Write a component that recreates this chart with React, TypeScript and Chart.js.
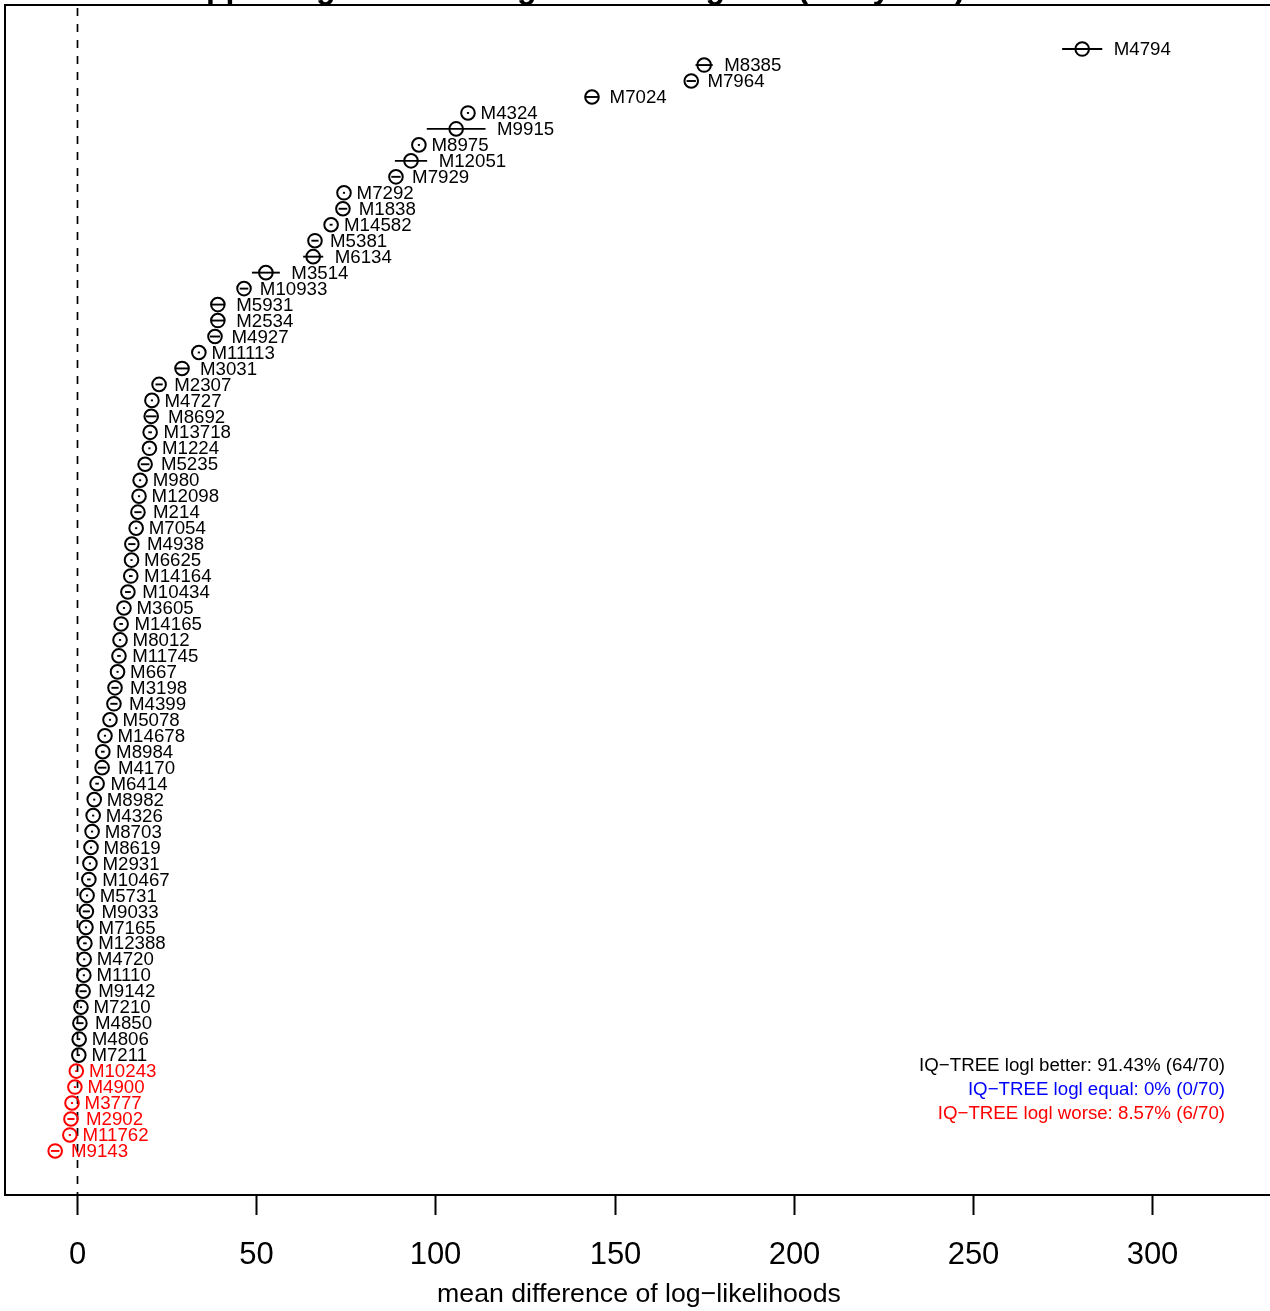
import React, { useEffect, useRef } from "react";
import { Chart, registerables } from "chart.js";

Chart.register(...registerables);

const modelLabels: string[] = [
  "M4794", "M8385", "M7964", "M7024", "M4324", "M9915", "M8975", "M12051", "M7929", "M7292",
  "M1838", "M14582", "M5381", "M6134", "M3514", "M10933", "M5931", "M2534", "M4927", "M11113",
  "M3031", "M2307", "M4727", "M8692", "M13718", "M1224", "M5235", "M980", "M12098", "M214",
  "M7054", "M4938", "M6625", "M14164", "M10434", "M3605", "M14165", "M8012", "M11745", "M667",
  "M3198", "M4399", "M5078", "M14678", "M8984", "M4170", "M6414", "M8982", "M4326", "M8703",
  "M8619", "M2931", "M10467", "M5731", "M9033", "M7165", "M12388", "M4720", "M1110", "M9142",
  "M7210", "M4850", "M4806", "M7211", "M10243", "M4900", "M3777", "M2902", "M11762", "M9143",
];

const meanDiff: number[] = [
  280.5, 175.0, 171.4, 143.7, 109.1, 105.8, 95.4, 93.2, 89.0, 74.5,
  74.2, 70.9, 66.4, 65.9, 52.7, 46.6, 39.3, 39.3, 38.5, 34.0,
  29.3, 22.9, 20.9, 20.7, 20.4, 20.2, 19.0, 17.6, 17.3, 17.0,
  16.5, 15.3, 15.2, 15.0, 14.2, 13.1, 12.3, 12.0, 11.7, 11.3,
  10.6, 10.3, 9.2, 7.8, 7.2, 7.0, 5.6, 4.8, 4.5, 4.2,
  3.9, 3.6, 3.3, 2.8, 2.6, 2.5, 2.2, 2.0, 1.9, 1.7,
  1.1, 0.8, 0.6, 0.5, -0.2, -0.6, -1.4, -1.7, -2.0, -6.1,
];

const errHalf: number[] = [
  5.6, 2.4, 1.3, 1.7, 0.3, 8.2, 0.3, 4.5, 1.3, 0.3,
  1.2, 0.4, 1.0, 2.8, 3.9, 1.2, 1.9, 1.9, 1.4, 0.3,
  1.8, 1.0, 0.3, 1.5, 0.5, 0.3, 1.2, 0.3, 0.3, 1.0,
  0.3, 1.0, 0.3, 0.5, 0.8, 0.3, 0.5, 0.3, 0.5, 0.3,
  1.0, 1.0, 0.3, 0.3, 0.5, 1.2, 0.5, 0.3, 0.3, 0.3,
  0.3, 0.3, 0.5, 0.3, 1.0, 0.3, 0.5, 0.3, 0.3, 1.0,
  0.3, 1.0, 0.3, 0.3, 0.3, 0.3, 0.3, 1.0, 0.3, 1.2,
];

const xTicks: number[] = [0, 50, 100, 150, 200, 250, 300];

const titleText = "Supporting site-wise log-likelihood gains (all by site)";
const xAxisTitle = "mean difference of log\u2212likelihoods";
const summaryLines: string[] = [
  "IQ\u2212TREE logl better: 91.43% (64/70)",
  "IQ\u2212TREE logl equal: 0% (0/70)",
  "IQ\u2212TREE logl worse: 8.57% (6/70)",
];
const summaryColors: string[] = ["#000000", "#0000FF", "#FF0000"];

const FONT = "'Liberation Sans', Arial, Helvetica, sans-serif";
const OFF = 40; // canvas shifted up by this many px

function colorOf(v: number): string {
  return v > 0 ? "#000000" : v < 0 ? "#FF0000" : "#0000FF";
}

const n = modelLabels.length;

const overlayPlugin = {
  id: "overlay",
  beforeDatasetsDraw(chart: any) {
    const ctx = chart.ctx;
    const xs = chart.scales.x;
    const ys = chart.scales.y;
    const area = chart.chartArea;
    ctx.save();
    // dashed zero line
    ctx.strokeStyle = "#000";
    ctx.lineWidth = 1.7;
    ctx.setLineDash([8, 8]);
    ctx.lineDashOffset = -3;
    const x0 = Math.round(xs.getPixelForValue(0)) + 0.5;
    ctx.beginPath();
    ctx.moveTo(x0, area.top);
    ctx.lineTo(x0, area.bottom);
    ctx.stroke();
    ctx.setLineDash([]);
    // error bars
    ctx.lineWidth = 1.9;
    for (let i = 0; i < n; i++) {
      const yy = ys.getPixelForValue(n - i);
      ctx.strokeStyle = colorOf(meanDiff[i]);
      ctx.beginPath();
      ctx.moveTo(xs.getPixelForValue(meanDiff[i] - errHalf[i]), yy);
      ctx.lineTo(xs.getPixelForValue(meanDiff[i] + errHalf[i]), yy);
      ctx.stroke();
    }
    ctx.restore();
  },
  afterDatasetsDraw(chart: any) {
    const ctx = chart.ctx;
    const xs = chart.scales.x;
    const ys = chart.scales.y;
    const area = chart.chartArea;
    ctx.save();
    // point labels
    ctx.font = `18.7px ${FONT}`;
    ctx.textAlign = "left";
    ctx.textBaseline = "middle";
    for (let i = 0; i < n; i++) {
      const yy = ys.getPixelForValue(n - i);
      const xr = xs.getPixelForValue(meanDiff[i] + errHalf[i]);
      ctx.fillStyle = colorOf(meanDiff[i]);
      ctx.fillText(modelLabels[i], xr + 11.5, yy + 1);
    }
    // box
    ctx.strokeStyle = "#000";
    ctx.lineWidth = 2;
    ctx.beginPath();
    ctx.rect(area.left, area.top, area.right - area.left, area.bottom - area.top);
    ctx.stroke();
    // ticks
    ctx.lineWidth = 2;
    ctx.font = `31px ${FONT}`;
    ctx.textAlign = "center";
    ctx.textBaseline = "middle";
    ctx.fillStyle = "#000";
    for (const t of xTicks) {
      const px = Math.round(xs.getPixelForValue(t)) + 0.5;
      ctx.beginPath();
      ctx.moveTo(px, area.bottom);
      ctx.lineTo(px, area.bottom + 20);
      ctx.stroke();
      ctx.fillText(String(t), px, area.bottom + 60);
    }
    // axis title
    ctx.font = `26.7px ${FONT}`;
    ctx.fillText(xAxisTitle, 639, area.bottom + 100);
    // summary legend
    ctx.font = `18.7px ${FONT}`;
    ctx.textAlign = "right";
    for (let k = 0; k < summaryLines.length; k++) {
      ctx.fillStyle = summaryColors[k];
      ctx.fillText(summaryLines[k], 1225, 1066 + OFF + k * 24);
    }
    // main title (mostly above the visible page)
    ctx.fillStyle = "#000";
    ctx.font = `bold 32px ${FONT}`;
    ctx.textAlign = "left";
    ctx.textBaseline = "alphabetic";
    ctx.fillText(titleText, 165, OFF - 2.5);
    ctx.restore();
  },
};

export default function App() {
  const ref = useRef<HTMLCanvasElement | null>(null);
  useEffect(() => {
    if (!ref.current) return;
    const points = meanDiff.map((v, i) => ({ x: v, y: n - i }));
    const chart = new Chart(ref.current, {
      type: "scatter",
      data: {
        datasets: [
          {
            data: points,
            pointStyle: "circle",
            pointRadius: 6.8,
            pointHoverRadius: 6.8,
            pointBorderWidth: 2,
            pointBackgroundColor: "rgba(0,0,0,0)",
            pointBorderColor: meanDiff.map((v) => colorOf(v)),
          },
        ],
      },
      options: {
        responsive: false,
        animation: false,
        devicePixelRatio: 1,
        events: [],
        layout: {
          autoPadding: false,
          padding: { left: 5, top: 5 + OFF, right: 10, bottom: 1351 - (1195 + OFF) },
        },
        plugins: { legend: { display: false }, tooltip: { enabled: false }, title: { display: false } },
        scales: {
          x: { type: "linear", display: false, min: -20.1, max: 335.7 },
          y: { type: "linear", display: false, min: -1.76, max: 72.76 },
        },
      },
      plugins: [overlayPlugin],
    });
    return () => chart.destroy();
  }, []);
  return (
    <div
      style={{
        position: "absolute",
        left: 0,
        top: -OFF,
        width: 1270,
        height: 1351,
        overflow: "hidden",
        background: "#fff",
      }}
    >
      <canvas ref={ref} width={1290} height={1351} style={{ display: "block" }} />
    </div>
  );
}
